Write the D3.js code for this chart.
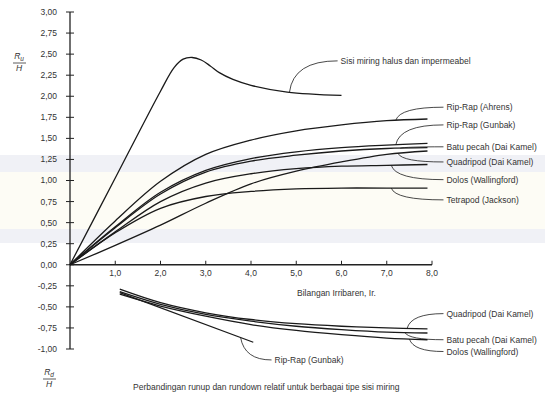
<!DOCTYPE html>
<meta charset="utf-8">
<title>Runup dan rundown relatif</title>
<body>
<script src="https://cdn.jsdelivr.net/npm/d3@7"></script>
<style>
html, body {
    margin: 0;
    background: #fff;
}
svg {
    display: block;
    font-family: "Liberation Sans", Arial, sans-serif;
}
.lbl {
    font-size: 8.5px;
    fill: #333;
}
.curve, .lead {
    fill: none;
    stroke: #1a1a1a;
}
</style>
<script>
// ---- data ----
var xTicks = [1, 2, 3, 4, 5, 6, 7, 8],
    yTicks = [-1, -0.75, -0.5, -0.25, 0, 0.25, 0.5, 0.75, 1, 1.25, 1.5, 1.75, 2, 2.25, 2.5, 2.75, 3];

var irSmooth = [0, 1, 2, 2.3, 2.5, 2.7, 2.9, 3.1, 3.3, 3.6, 4, 4.8, 6],
    smooth   = [0, 1.03, 2.06, 2.34, 2.44, 2.46, 2.43, 2.36, 2.28, 2.20, 2.13, 2.05, 2.01];

var irUp     = [0, 1, 2, 3, 4, 5, 6, 7, 7.9],
    ahrens   = [0, 0.52, 0.99, 1.31, 1.48, 1.59, 1.66, 1.71, 1.73],
    gunbakUp = [0, 0.45, 0.86, 1.12, 1.26, 1.34, 1.39, 1.42, 1.44],
    batuUp   = [0, 0.44, 0.84, 1.10, 1.23, 1.30, 1.35, 1.38, 1.39],
    quadUp   = [0, 0.23, 0.47, 0.73, 0.96, 1.11, 1.22, 1.31, 1.35],
    dolosUp  = [0, 0.39, 0.75, 0.97, 1.08, 1.14, 1.17, 1.18, 1.19],
    tetraUp  = [0, 0.38, 0.67, 0.81, 0.87, 0.90, 0.91, 0.91, 0.91];

var irDown    = [1.1, 2, 3, 4, 5, 6, 7, 7.9],
    quadDown  = [-0.29, -0.45, -0.57, -0.65, -0.70, -0.73, -0.75, -0.76],
    batuDown  = [-0.32, -0.47, -0.59, -0.67, -0.73, -0.77, -0.80, -0.81],
    dolosDown = [-0.35, -0.49, -0.61, -0.71, -0.78, -0.83, -0.87, -0.89],
    irGunbakDown = [1.1, 4.05],
    gunbakDown   = [-0.33, -0.92];

// label: [text, series x, series y, anchor Ir, label Ir, label value]
var labels = [
    ["Sisi miring halus dan impermeabel", irSmooth, smooth, 4.85, 5.98, 2.42],
    ["Rip-Rap (Ahrens)", irUp, ahrens, 7.2, 8.32, 1.87],
    ["Rip-Rap (Gunbak)", irUp, gunbakUp, 7.2, 8.32, 1.66],
    ["Batu pecah (Dai Kamel)", irUp, batuUp, 7.3, 8.32, 1.40],
    ["Quadripod (Dai Kamel)", irUp, quadUp, 7.25, 8.32, 1.22],
    ["Dolos (Wallingford)", irUp, dolosUp, 7.1, 8.32, 1.01],
    ["Tetrapod (Jackson)", irUp, tetraUp, 7.1, 8.32, 0.77],
    ["Quadripod (Dai Kamel)", irDown, quadDown, 7.45, 8.32, -0.58],
    ["Batu pecah (Dai Kamel)", irDown, batuDown, 7.4, 8.32, -0.89],
    ["Dolos (Wallingford)", irDown, dolosDown, 7.5, 8.32, -1.03],
    ["Rip-Rap (Gunbak)", irGunbakDown, gunbakDown, 3.77, 4.52, -1.13]
];

var width = 545,
    height = 399;

var svg = d3.select("body").append("svg")
    .attr("width", width)
    .attr("height", height);

// faint scan bands of the original page
svg.append("rect").attr("x", 0).attr("y", 155).attr("width", width).attr("height", 17).attr("fill", "#f0f1f6");
svg.append("rect").attr("x", 0).attr("y", 172).attr("width", width).attr("height", 57).attr("fill", "#fdfcf5");
svg.append("rect").attr("x", 0).attr("y", 229).attr("width", width).attr("height", 14).attr("fill", "#f0f1f6");

var x = d3.scaleLinear().domain([0, 8]).range([70, 432]),
    y = d3.scaleLinear().domain([-1, 3]).range([349, 12]);

var fmt = function(d, n) { return d.toFixed(n).replace(".", ","); };

// y axis: ticks cross the line
var ya = svg.append("g").attr("transform", "translate(" + x(0) + ",0)");
ya.append("line").attr("y1", y(3)).attr("y2", y(-1)).attr("stroke", "#222").attr("stroke-width", 1.3);
ya.selectAll("line.t").data(yTicks).enter().append("line")
    .attr("class", "t")
    .attr("x1", -4).attr("x2", 4)
    .attr("y1", y).attr("y2", y)
    .attr("stroke", "#222");
ya.selectAll("text").data(yTicks).enter().append("text")
    .attr("class", "lbl")
    .attr("x", -13)
    .attr("y", y)
    .attr("dy", "0.35em")
    .attr("text-anchor", "end")
    .text(function(d) { return fmt(d, 2); });

// x axis along zero
var xa = svg.append("g").attr("transform", "translate(0," + y(0) + ")");
xa.append("line").attr("x1", x(0)).attr("x2", x(8)).attr("stroke", "#222").attr("stroke-width", 1.3);
xa.selectAll("line.t").data(xTicks).enter().append("line")
    .attr("class", "t")
    .attr("x1", x).attr("x2", x)
    .attr("y1", -4).attr("y2", 0)
    .attr("stroke", "#222");
xa.selectAll("text").data(xTicks).enter().append("text")
    .attr("class", "lbl")
    .attr("x", x)
    .attr("y", 11)
    .attr("text-anchor", "middle")
    .text(function(d) { return fmt(d, 1); });

svg.append("text").attr("class", "lbl")
    .attr("x", 297).attr("y", 296)
    .text("Bilangan Irribaren, Ir.");

// R/H labels
function frac(px, py, sub) {
    var g = svg.append("g").attr("transform", "translate(" + px + "," + py + ")");
    var t = g.append("text").attr("class", "lbl").attr("text-anchor", "middle").attr("font-style", "italic");
    t.append("tspan").text("R");
    t.append("tspan").attr("font-size", "6.5px").attr("dy", 2).text(sub);
    g.append("line").attr("x1", -6).attr("x2", 7).attr("y1", 4).attr("y2", 4).attr("stroke", "#333").attr("stroke-width", 0.8);
    g.append("text").attr("class", "lbl").attr("text-anchor", "middle").attr("font-style", "italic")
        .attr("y", 12).text("H");
}
frac(19, 59, "u");
frac(49, 375, "d");

// curves
var line = d3.line()
    .x(function(d) { return x(d[0]); })
    .y(function(d) { return y(d[1]); })
    .curve(d3.curveCatmullRom.alpha(0.5));

var series = [
    [irSmooth, smooth], [irUp, ahrens], [irUp, gunbakUp], [irUp, batuUp],
    [irUp, quadUp], [irUp, dolosUp], [irUp, tetraUp],
    [irDown, quadDown], [irDown, batuDown], [irDown, dolosDown],
    [irGunbakDown, gunbakDown]
];

svg.selectAll("path.curve").data(series).enter().append("path")
    .attr("class", "curve")
    .attr("stroke-width", 1.3)
    .attr("d", function(s) { return line(d3.zip(s[0], s[1])); });

// leaders and labels
labels.forEach(function(l) {
    var ax = l[3],
        av = d3.scaleLinear().domain(l[1]).range(l[2])(ax),
        x0 = x(ax), y0 = y(av),
        x1 = x(l[4]) - 3, y1 = y(l[5]);
    svg.append("path")
        .attr("class", "lead")
        .attr("stroke-width", 0.8)
        .attr("d", "M" + x0 + "," + y0 + "Q" + (x0 + 4) + "," + y1 + " " + x1 + "," + y1);
    svg.append("text").attr("class", "lbl")
        .attr("x", x(l[4]))
        .attr("y", y1)
        .attr("dy", "0.35em")
        .text(l[0]);
});

svg.append("text").attr("class", "lbl")
    .attr("x", 133).attr("y", 390)
    .attr("font-size", "8px")
    .text("Perbandingan runup dan rundown relatif untuk berbagai tipe sisi miring");
</script>
